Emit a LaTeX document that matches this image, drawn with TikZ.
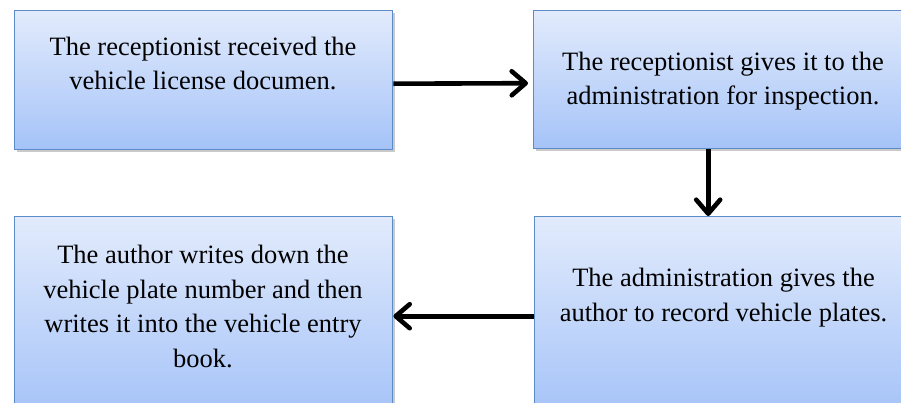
\documentclass[tikz,border=0pt]{standalone}
\usepackage{fontspec}
\setmainfont{Liberation Serif}
\usetikzlibrary{arrows.meta,shadows}
\definecolor{boxtop}{HTML}{E2EBFC}
\definecolor{boxbot}{HTML}{A5C3F8}
\definecolor{boxborder}{HTML}{5B8BC9}
\newcommand\boxfont{\fontsize{26.5}{34.5}\selectfont}
\tikzset{
  stepbox/.style={draw=boxborder, line width=1.4pt, top color=boxtop, bottom color=boxbot,
    anchor=north west, inner sep=0pt,
    drop shadow={shadow xshift=2.5pt, shadow yshift=-2.5pt, opacity=0.35, fill=black!60}},
  boxtext/.style={align=center, inner sep=0pt, anchor=north, font=\boxfont, text=black},
  arr/.style={line width=4.6pt, -{Straight Barb[length=14pt,width=24pt,round]}}
}
\begin{document}
\begin{tikzpicture}[x=1pt,y=-1pt]
\useasboundingbox (0,0) rectangle (901,402);
\clip (0,0) rectangle (901,402);
\node[stepbox, minimum width=378pt, minimum height=139pt] (b1) at (14,10) {};
\node[stepbox, minimum width=380pt, minimum height=138pt] (b2) at (533,10) {};
\node[stepbox, minimum width=378pt, minimum height=199pt] (b3) at (14,216) {};
\node[stepbox, minimum width=380pt, minimum height=199pt] (b4) at (534,216) {};
\node[boxtext] (t1) at (203,36.9) {The receptionist received the\\vehicle license documen.};
\node[boxtext] (t2) at (723,51.9) {The receptionist gives it to the\\administration for inspection.};
\node[boxtext] (t3) at (203,245) {The author writes down the\\vehicle plate number and then\\writes it into the vehicle entry\\book.};
\node[boxtext] (t4) at (723.5,268) {The administration gives the\\author to record vehicle plates.};
\draw[arr] ([yshift=-3.5pt]b1.east) -- ([xshift=-5pt,yshift=-3.5pt]b2.west);
\draw[arr] ([xshift=-15.5pt]b2.south) -- ([xshift=-15.5pt]b2.south |- b4.north);
\draw[arr] (b4.west) -- (b3.east);
\end{tikzpicture}
\end{document}
